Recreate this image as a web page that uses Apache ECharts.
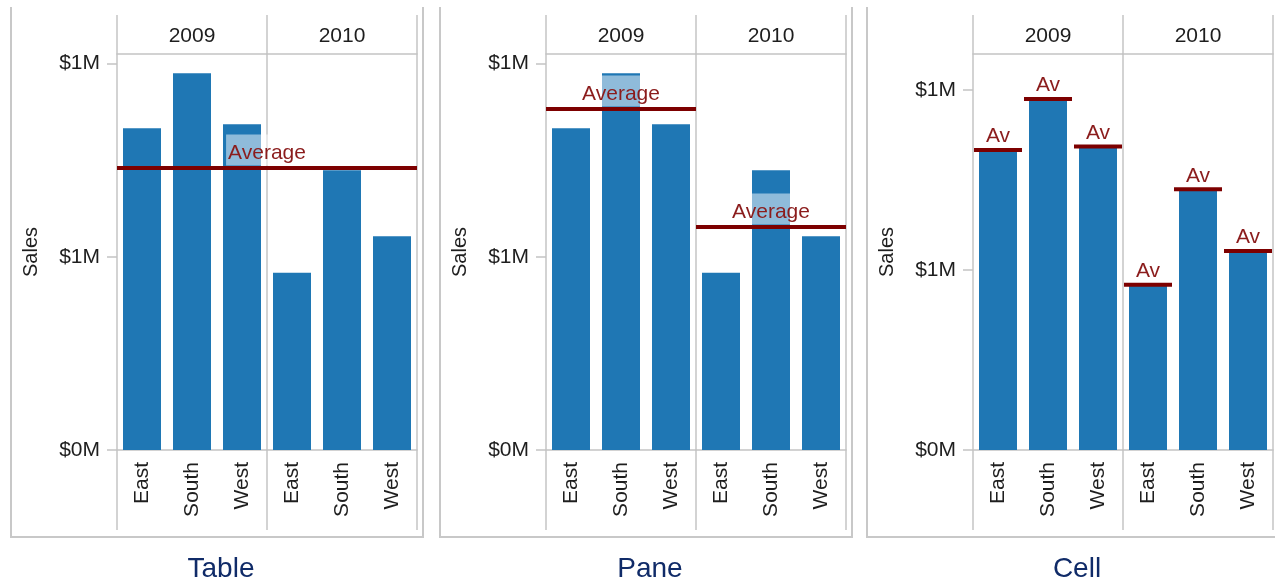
<!DOCTYPE html>
<html><head><meta charset="utf-8">
<script src="https://cdn.jsdelivr.net/npm/echarts@6/dist/echarts.min.js"></script>
<style>html,body{margin:0;padding:0;background:#fff}#c{width:1275px;height:583px}</style>
</head><body><div id="c"></div>
<script>
const regions = ['East', 'South', 'West'];
const years = ['2009', '2010'];
const sales2009 = [833000, 975000, 843000];
const sales2010 = [459000, 724000, 553000];
const yTickValues = [0, 500000, 1000000];
const yTickLabels = ['$0M', '$1M', '$1M'];
const panelNames = ['Table', 'Pane', 'Cell'];

const salesByYear = [sales2009, sales2010];
const FONT = '"Liberation Sans", Arial, sans-serif';
const GRAY = '#c4c4c4';
const TEXT = '#1e1e1e';
const BLUE = '#1f77b4';
const AVG = '#7d0000';
const AVG_TEXT = '#8b1c1c';
const mean = a => a.reduce((s, v) => s + v, 0) / a.length;

const panelOffset = [0, 429, 856];
const yMax = [1025000, 1025000, 1100000];
const plotTop = 54, plotH = 396, paneW = 150;

const grid = [], xAxis = [], yAxis = [], series = [], graphic = [], title = [];

function avgLabel() {
  return {
    show: true, position: 'insideMiddleTop', formatter: 'Average', color: AVG_TEXT,
    fontSize: 21, fontFamily: FONT, backgroundColor: 'rgba(255,255,255,0.5)',
    padding: [8, 2, 2, 2], distance: 2
  };
}
function markLineFor(value) {
  return {
    silent: true, symbol: 'none', animation: false,
    lineStyle: {color: AVG, width: 4, type: 'solid'},
    label: avgLabel(),
    emphasis: {disabled: true},
    data: [{yAxis: value}]
  };
}

panelNames.forEach((name, p) => {
  const off = panelOffset[p];
  const left = 117 + off;
  graphic.push({type: 'polyline', silent: true, z: 0,
    shape: {points: [[11 + off, 7], [11 + off, 537], [423 + off, 537], [423 + off, 7]]},
    style: {stroke: '#c8c8c8', lineWidth: 2, fill: null}});
  for (let k = 0; k < 3; k++) {
    graphic.push({type: 'line', silent: true, z: 0,
      shape: {x1: left + k * paneW, y1: 15, x2: left + k * paneW, y2: 530},
      style: {stroke: GRAY, lineWidth: 1.5}});
  }
  title.push({text: name, left: off + 216, top: 550, textAlign: 'center',
    textStyle: {fontSize: 28, fontWeight: 'normal', color: '#102b68', fontFamily: FONT}});

  years.forEach((yr, yi) => {
    const gi = grid.length;
    grid.push({left: left + yi * paneW, top: plotTop, width: paneW, height: plotH});
    const xi = xAxis.length;
    xAxis.push({type: 'category', gridIndex: gi, data: regions, position: 'bottom',
      axisLine: {lineStyle: {color: GRAY, width: 1.5}},
      axisTick: {length: 9, lineStyle: {color: GRAY, width: 1.5}},
      axisLabel: {rotate: 90, margin: 12, fontSize: 21, color: TEXT, fontFamily: FONT}});
    xAxis.push({type: 'category', gridIndex: gi, data: [yr], position: 'top',
      axisLine: {lineStyle: {color: GRAY, width: 1.5}},
      axisTick: {show: false},
      axisLabel: {margin: 7, fontSize: 21, color: TEXT, fontFamily: FONT}});
    const yiIdx = yAxis.length;
    yAxis.push({type: 'value', gridIndex: gi, min: 0, max: yMax[p], show: yi === 0,
      axisLine: {show: false}, splitLine: {show: false},
      axisTick: {show: true, length: 10, customValues: yTickValues, lineStyle: {color: GRAY, width: 1.5}},
      axisLabel: {customValues: yTickValues, margin: 17, fontSize: 21, color: TEXT, fontFamily: FONT,
        formatter: v => { const i = yTickValues.indexOf(v); return i >= 0 ? yTickLabels[i] : ''; }},
      name: yi === 0 ? 'Sales' : '', nameLocation: 'middle', nameGap: 76, nameRotate: 90,
      nameTextStyle: {fontSize: 20, color: TEXT, fontFamily: FONT}});
    const vals = salesByYear[yi];
    const bar = {type: 'bar', xAxisIndex: xi, yAxisIndex: yiIdx, data: vals,
      barCategoryGap: '24%', itemStyle: {color: BLUE}, silent: true, z: 2};
    if (p === 1) bar.markLine = markLineFor(mean(vals));
    series.push(bar);
    if (p === 2) {
      series.push({type: 'custom', xAxisIndex: xi, yAxisIndex: yiIdx, silent: true, z: 5,
        data: regions.map((r, i) => [i, vals[i]]),
        renderItem: (params, api) => {
          const pt = api.coord([api.value(0), api.value(1)]);
          const w = api.size([1, 0])[0];
          return {type: 'group', children: [
            {type: 'line', shape: {x1: pt[0] - w / 2 + 1, y1: pt[1], x2: pt[0] + w / 2 - 1, y2: pt[1]},
              style: {stroke: AVG, lineWidth: 4}},
            {type: 'text', style: {text: 'Av', x: pt[0], y: pt[1] - 3, align: 'center',
              verticalAlign: 'bottom', fill: AVG_TEXT, fontSize: 21, fontFamily: FONT}}
          ]};
        }});
    }
  });

  if (p === 0) {
    const gi = grid.length;
    grid.push({left: left, top: plotTop, width: 2 * paneW, height: plotH});
    const xi = xAxis.length;
    xAxis.push({type: 'category', gridIndex: gi, data: ['all'], show: false});
    const yiIdx = yAxis.length;
    yAxis.push({type: 'value', gridIndex: gi, min: 0, max: yMax[p], show: false});
    series.push({type: 'line', xAxisIndex: xi, yAxisIndex: yiIdx, data: [], z: 5,
      markLine: markLineFor(mean(sales2009.concat(sales2010)))});
  }
});

const chart = echarts.init(document.getElementById('c'));
chart.setOption({animation: false, backgroundColor: '#fff', title, grid, xAxis, yAxis, series, graphic});
</script>
</body></html>
